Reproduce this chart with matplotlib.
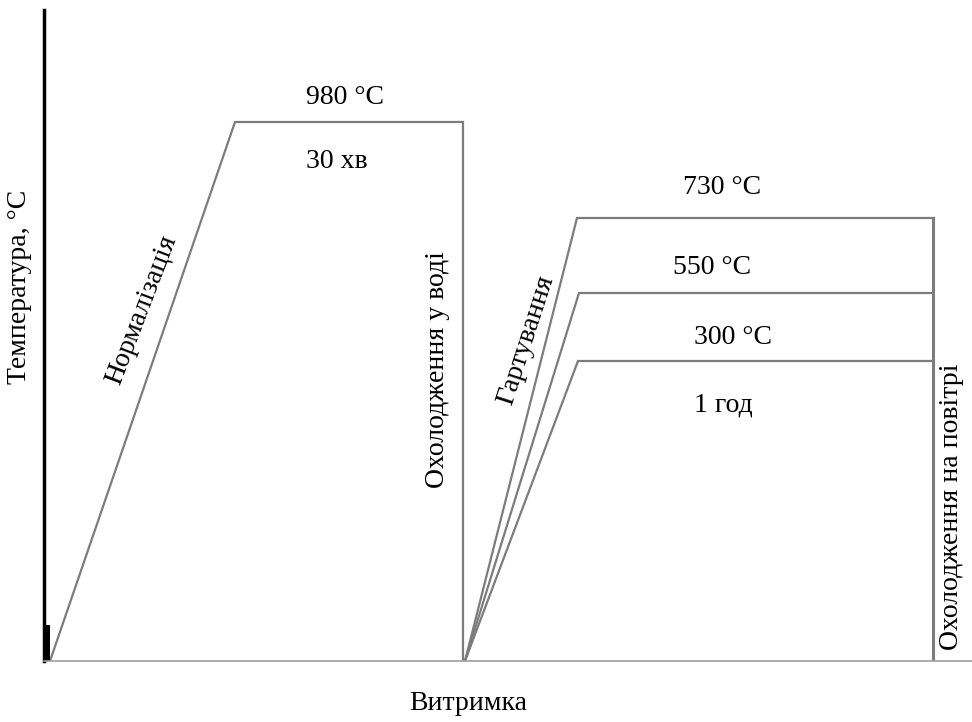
import matplotlib
matplotlib.use("Agg")
import matplotlib.pyplot as plt

plt.rcParams['font.family'] = ['Liberation Serif', 'DejaVu Serif']

# schematic time / temperature levels (arbitrary units)
norm_time = [6, 191, 419, 419]
norm_level = [0, 539, 539, 0]

temper_start = 421
temper_end = 889
temper_knees = [533, 535, 534]
temper_levels = [443, 368, 300]
temper_labels = ['730 °C', '550 °C', '300 °C']

fig = plt.figure(figsize=(9.72, 7.22), dpi=100)
ax = fig.add_axes([44 / 972, 61 / 722, 928 / 972, 651 / 722])
ax.set_xlim(0, 928)
ax.set_ylim(0, 651)

line_kw = dict(color='#7c7c7c', lw=1.6, solid_joinstyle='miter')

# normalisation + water quench
ax.plot(norm_time, norm_level, **line_kw)

# three tempering cycles + air cooling
for knee, level in zip(temper_knees, temper_levels):
    ax.plot([temper_start, knee, temper_end], [0, level, level], **line_kw)
ax.plot([temper_end, temper_end], [0, max(temper_levels)], color='#7c7c7c', lw=2.2)

# axes
for s in ['top', 'right']:
    ax.spines[s].set_visible(False)
ax.spines['left'].set_color('black')
ax.spines['left'].set_linewidth(2.5)
ax.spines['bottom'].set_color('#a0a0a0')
ax.spines['bottom'].set_linewidth(1.2)
ax.set_xticks([])
ax.set_yticks([])
ax.plot([3, 3], [0, 36], color='black', lw=4.3, solid_capstyle='butt')

fs = 20
ax.text(301, 563, '980 °C', fontsize=fs, ha='center', va='center')
ax.text(293, 499, '30 хв', fontsize=fs, ha='center', va='center')
ax.text(98, 351, 'Нормалізація', fontsize=fs, rotation=69, ha='center', va='center')
ax.text(393, 291, 'Охолодження у воді', fontsize=fs, rotation=90, ha='center', va='center')
ax.text(482, 321, 'Гартування', fontsize=fs, rotation=72, ha='center', va='center')
ax.text(908, 154, 'Охолодження на повітрі', fontsize=fs, rotation=90, ha='center', va='center')

label_pos = [(678, 474), (668, 393), (689, 324)]
for (x, y), lab in zip(label_pos, temper_labels):
    ax.text(x, y, lab, fontsize=fs, ha='center', va='center')
ax.text(679, 256, '1 год', fontsize=fs, ha='center', va='center')

fig.text(20 / 972, 1 - 287 / 722, 'Температура, °C', fontsize=fs, rotation=90,
         ha='center', va='center')
fig.text(468 / 972, 1 - 703 / 722, 'Витримка', fontsize=fs, ha='center', va='center')

fig.savefig('out.png', dpi=100)
